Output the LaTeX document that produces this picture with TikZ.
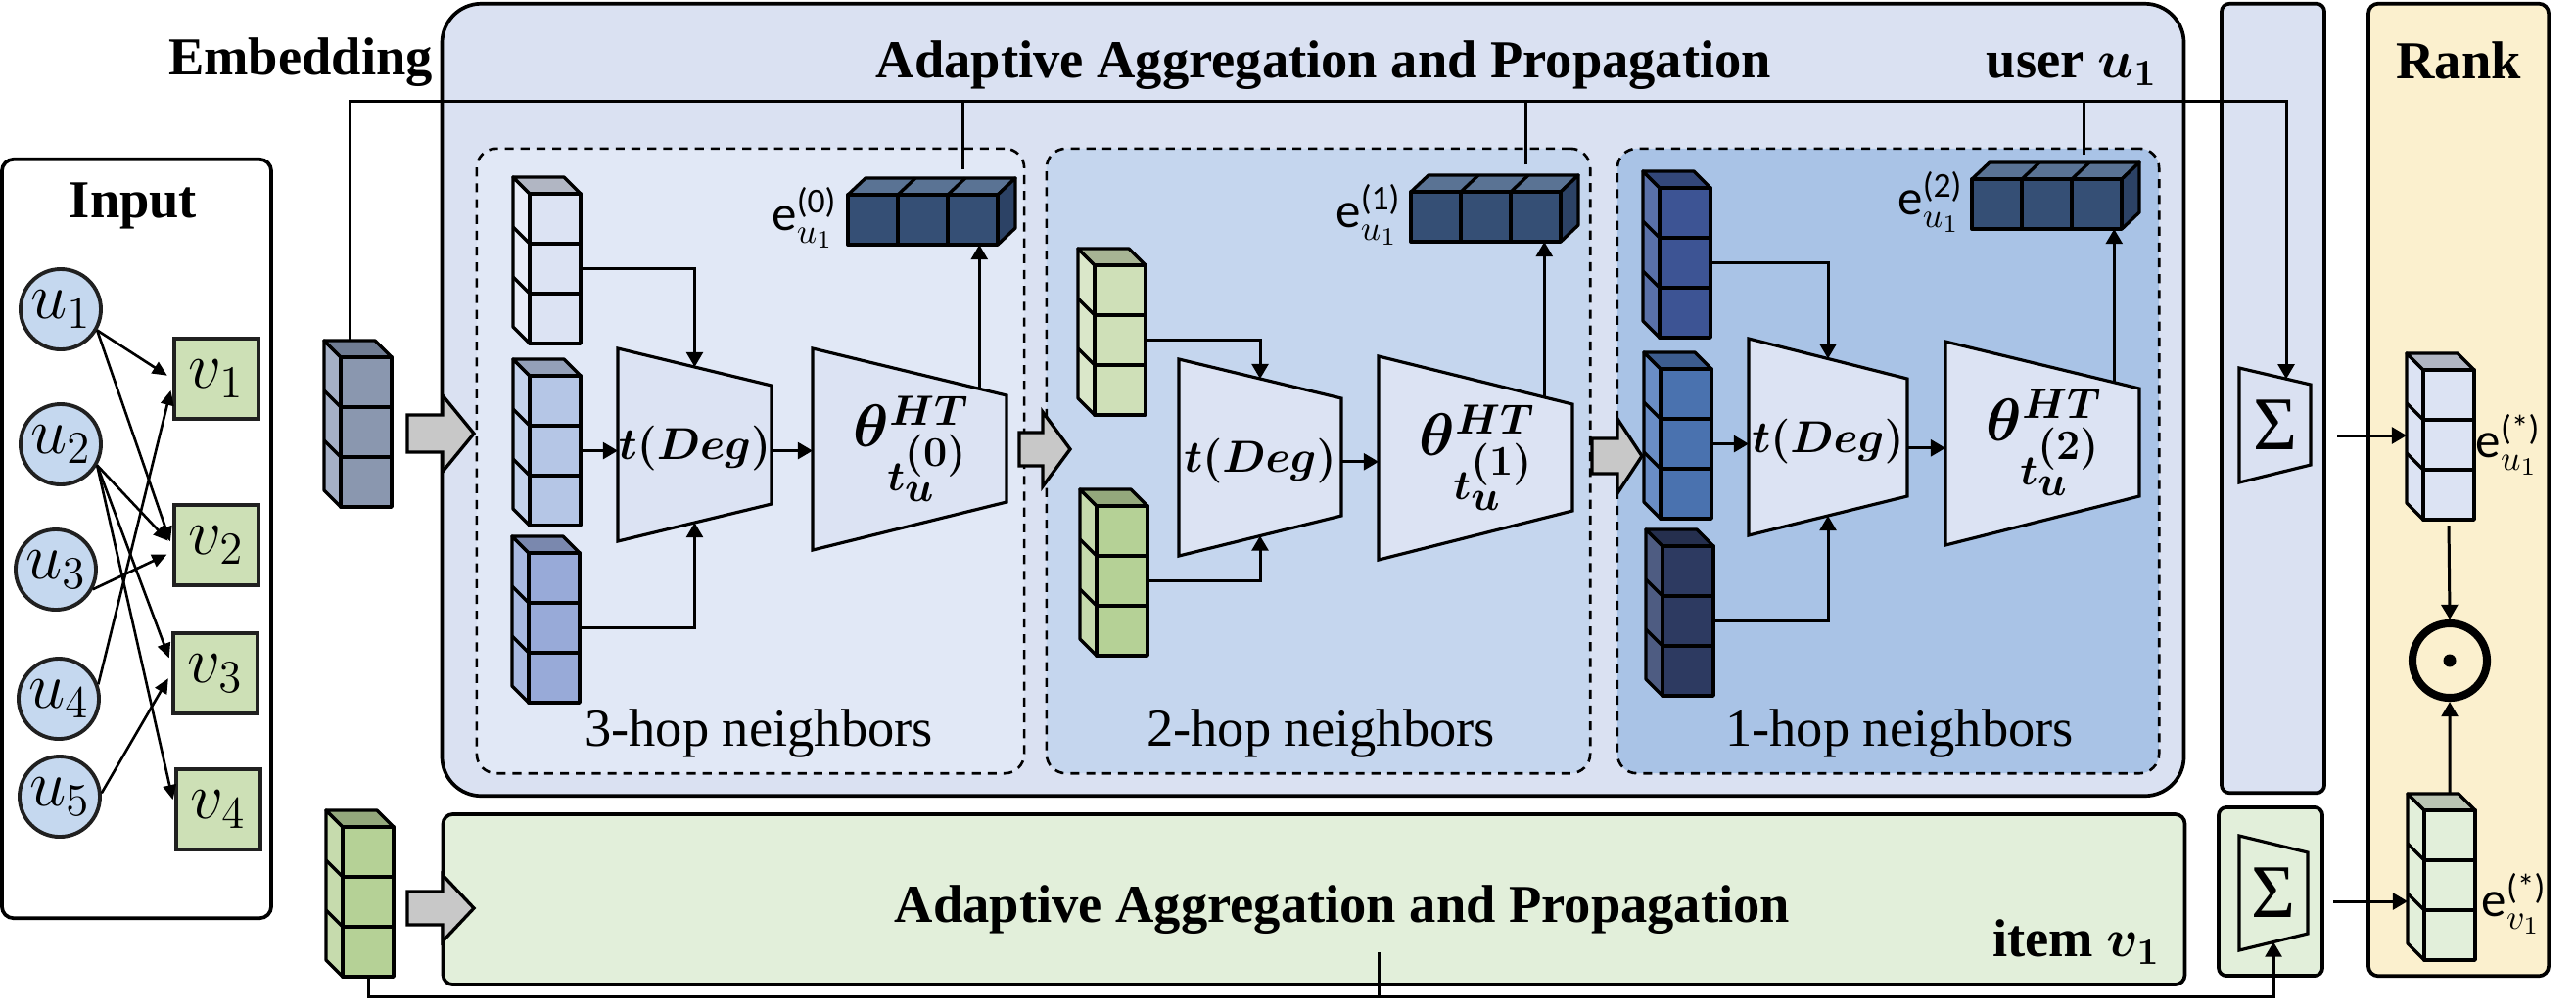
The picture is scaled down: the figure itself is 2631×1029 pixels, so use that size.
\RequirePackage{fix-cm}
\documentclass[tikz,border=0pt]{standalone}
\usepackage[no-math]{fontspec}
\setmainfont{Liberation Serif}
\newfontfamily\carlito{Carlito}
\usepackage{amsmath}
\usepackage{bm}
\usetikzlibrary{arrows.meta,calc}

\definecolor{userbg}{HTML}{DAE1F2}
\definecolor{hopthree}{HTML}{E1E8F6}
\definecolor{hoptwo}{HTML}{C5D6EE}
\definecolor{hopone}{HTML}{A9C3E6}
\definecolor{trapfill}{HTML}{DCE3F3}
\definecolor{itembg}{HTML}{E2EFDA}
\definecolor{rankbg}{HTML}{FBF0CE}
\definecolor{ublue}{HTML}{C5D8EF}
\definecolor{vgreen}{HTML}{CDE0B6}
\definecolor{ink}{HTML}{202020}
\definecolor{blkgray}{HTML}{C8C8C8}
% stack colours
\definecolor{embF}{HTML}{8A97AF}\definecolor{embS}{HTML}{A5B0C6}\definecolor{embT}{HTML}{6F7C93}
\definecolor{aF}{HTML}{DCE3F3}\definecolor{aS}{HTML}{E8ECF7}\definecolor{aT}{HTML}{B1B6C3}
\definecolor{bF}{HTML}{B5C6E6}\definecolor{bS}{HTML}{C5D3EC}\definecolor{bT}{HTML}{94A0B8}
\definecolor{cF}{HTML}{98AAD8}\definecolor{cS}{HTML}{A9B9E0}\definecolor{cT}{HTML}{7A88AE}
\definecolor{dF}{HTML}{CFE0B8}\definecolor{dS}{HTML}{DAE7C9}\definecolor{dT}{HTML}{A7B494}
\definecolor{gnF}{HTML}{B5D196}\definecolor{gnS}{HTML}{C6DBAD}\definecolor{gnT}{HTML}{94A87C}
\definecolor{fF}{HTML}{3D5494}\definecolor{fS}{HTML}{5A71A8}\definecolor{fT}{HTML}{334779}
\definecolor{gF}{HTML}{4A72AF}\definecolor{gS}{HTML}{6A8DC5}\definecolor{gT}{HTML}{3C5C8E}
\definecolor{hF}{HTML}{2D3A61}\definecolor{hS}{HTML}{4E5C82}\definecolor{hT}{HTML}{252F4E}
\definecolor{nvF}{HTML}{354F75}\definecolor{nvS}{HTML}{2C4265}\definecolor{nvT}{HTML}{5A7394}
\definecolor{esvT}{HTML}{BAC4B3}

% vertical stack of three cubes: name, x, y (front top-left), front, side, top
\newcommand{\vstack}[6]{%
  \begin{scope}[shift={(#2,#3)}]
    \draw[cube,fill=#5] (0,0) -- (-17,-17) -- (-17,136) -- (0,153) -- cycle;
    \draw[cube,fill=#6] (0,0) -- (-17,-17) -- (35,-17) -- (52,0) -- cycle;
    \draw[cube] (0,51) -- (-17,34) (0,102) -- (-17,85);
    \draw[cube,fill=#4] (0,0) rectangle (52,51);
    \draw[cube,fill=#4] (0,51) rectangle (52,102);
    \draw[cube,fill=#4] (0,102) rectangle (52,153);
  \end{scope}
  \node[inner sep=0pt,outer sep=0pt,minimum width=0.52cm,minimum height=1.53cm,anchor=north west] (#1) at (#2,#3) {};}
% horizontal stack of three cubes
\newcommand{\hstack}[6]{%
  \begin{scope}[shift={(#2,#3)}]
    \draw[cube,fill=#6] (0,0) -- (18,-17) -- (171,-17) -- (153,0) -- cycle;
    \draw[cube,fill=#5] (153,0) -- (171,-17) -- (171,34) -- (153,51) -- cycle;
    \draw[cube] (51,0) -- (69,-17) (102,0) -- (120,-17);
    \draw[cube,fill=#4] (0,0) rectangle (51,51);
    \draw[cube,fill=#4] (51,0) rectangle (102,51);
    \draw[cube,fill=#4] (102,0) rectangle (153,51);
  \end{scope}
  \node[inner sep=0pt,outer sep=0pt,minimum width=1.53cm,minimum height=0.51cm,anchor=north west] (#1) at (#2,#3) {};}
% trapezoid: name, xl, yl-top, yl-bottom, xr, yr-top, yr-bottom, fill
\newcommand{\trap}[8]{%
  \draw[trapz,fill=#8] (#2,#3) coordinate (#1-tl) -- (#5,#6) coordinate (#1-tr) -- (#5,#7) coordinate (#1-br) -- (#2,#4) coordinate (#1-bl) -- cycle;
  \coordinate (#1-c) at ($0.25*(#1-tl)+0.25*(#1-tr)+0.25*(#1-br)+0.25*(#1-bl)$);}
% grey block arrow: x0, xm, x1, yc, half body, half head
\newcommand{\blk}[6]{%
  \draw[line width=0.95pt,fill=blkgray,line join=miter] (#1,#4-#5) -- (#2,#4-#5) -- (#2,#4-#6) -- (#3,#4) -- (#2,#4+#6) -- (#2,#4+#5) -- (#1,#4+#5) -- cycle;}
% theta label
\newcommand{\thlab}[1]{$\bm{\theta}^{\bm{HT}}_{\bm{t}_{\scriptstyle\bm{u}}^{\scriptstyle\bm{(#1)}}}$}

\begin{document}
\begin{tikzpicture}[x=0.01cm,y=-0.01cm,
  bx/.style={draw=black,line width=1.05pt},
  cube/.style={draw=black,line width=0.95pt,line join=round},
  trapz/.style={draw=black,line width=0.9pt,line join=miter},
  conn/.style={draw=black,line width=0.85pt},
  arr/.style={conn,-{Triangle[length=4.3pt,width=4.8pt]}},
  garr/.style={draw=black,line width=0.75pt,-{Triangle[length=4.3pt,width=3.8pt]},shorten >=0.06cm},
  dbox/.style={draw=black,line width=0.75pt,dash pattern=on 2.6pt off 2pt,rounded corners=0.2cm},
  ttl/.style={font=\fontsize{15.5}{18}\selectfont\bfseries,inner sep=0pt},
  hop/.style={font=\fontsize{15.5}{18}\selectfont,inner sep=0pt},
  elab/.style={font=\fontsize{14.5}{17}\selectfont\carlito,inner sep=0pt},
  tdeg/.style={font=\fontsize{13}{15}\selectfont,inner sep=0pt},
  qlab/.style={font=\fontsize{17.5}{20}\selectfont,inner sep=0pt},
  sig/.style={font=\fontsize{22}{26}\selectfont,inner sep=0pt},
  unode/.style={circle,draw=ink,fill=ublue,line width=1.1pt,minimum size=0.82cm,inner sep=0pt,font=\fontsize{19}{22}\selectfont},
  vnode/.style={rectangle,draw=ink,fill=vgreen,line width=1.2pt,minimum width=0.86cm,minimum height=0.82cm,inner sep=0pt,font=\fontsize{19}{22}\selectfont}]
\useasboundingbox (0,0) rectangle (2631,1029);
\fill[white] (0,0) rectangle (2631,1029);

% ---------- big boxes ----------
\node[bx,fill=white,rounded corners=0.12cm,minimum width=2.75cm,minimum height=7.75cm] (inbox) at (139.5,550.5) {};
\node[bx,fill=userbg,rounded corners=0.4cm,minimum width=17.78cm,minimum height=8.09cm] (ubox) at (1341,408.5) {};
\node[bx,fill=itembg,rounded corners=0.1cm,minimum width=17.78cm,minimum height=1.74cm] (ibox) at (1342,919) {};
\node[bx,fill=userbg,rounded corners=0.08cm,minimum width=1.05cm,minimum height=8.06cm] (sucol) at (2321.5,407) {};
\node[bx,fill=itembg,rounded corners=0.08cm,minimum width=1.06cm,minimum height=1.72cm] (svcol) at (2319,911) {};
\node[bx,fill=rankbg,rounded corners=0.1cm,minimum width=1.84cm,minimum height=9.93cm] (rank) at (2511,500.5) {};

\node[dbox,fill=hopthree,minimum width=5.59cm,minimum height=6.38cm] (hop3) at (766.5,471) {};
\node[dbox,fill=hoptwo,minimum width=5.55cm,minimum height=6.38cm] (hop2) at (1346.5,471) {};
\node[dbox,fill=hopone,minimum width=5.53cm,minimum height=6.38cm] (hop1) at (1928.5,471) {};

% ---------- titles ----------
\node[ttl,anchor=base] (tEmb) at (307,76) {Embedding};
\node[ttl,anchor=base] (tIn) at (136,222) {Input};
\node[ttl,anchor=base] (tUser) at (1352,79) {Adaptive Aggregation and Propagation};
\node[ttl,anchor=base east] (tU1) at (2204,79) {user $\bm{u}_{\bm{1}}$};
\node[ttl,anchor=base] (tItem) at (1371,942) {Adaptive Aggregation and Propagation};
\node[ttl,anchor=base east] (tV1) at (2207,977) {item $\bm{v}_{\bm{1}}$};
\node[ttl,anchor=base] (tRank) at (2511,80) {Rank};
\node[hop,anchor=base] (l3) at (775,762) {3-hop neighbors};
\node[hop,anchor=base] (l2) at (1349,762) {2-hop neighbors};
\node[hop,anchor=base] (l1) at (1940,762) {1-hop neighbors};

% ---------- input graph ----------
\node[unode] (u1) at (62,316) {$u_1$};
\node[unode] (u2) at (62,454) {$u_2$};
\node[unode] (u3) at (57,582) {$u_3$};
\node[unode] (u4) at (60,714) {$u_4$};
\node[unode] (u5) at (61,814) {$u_5$};
\node[vnode] (v1) at (221,387) {$v_1$};
\node[vnode] (v2) at (221,557) {$v_2$};
\node[vnode] (v3) at (220,688) {$v_3$};
\node[vnode] (v4) at (223,827) {$v_4$};
\draw[garr] (u1.-30) -- (v1.west);
\draw[garr] (u1.-30) -- ([yshift=-0.02cm]v2.west);
\draw[garr] (u2.-30) -- (v2.west);
\draw[garr] (u2.-30) -- ([yshift=0.1cm]v3.west);
\draw[garr] (u2.-30) -- ([yshift=0.04cm]v4.west);
\draw[garr] (u3.-28) -- ([yshift=-0.07cm]v2.west);
\draw[garr] (u4.20) -- ([yshift=-0.06cm]v1.west);
\draw[garr] (u5.5) -- (v3.west);

% ---------- stacks ----------
\vstack{sEu}{348}{365}{embF}{embS}{embT}
\vstack{sEv}{350}{845}{gnF}{gnS}{gnT}
\vstack{sA}{541}{198}{aF}{aS}{aT}
\vstack{sB}{541}{384}{bF}{bS}{bT}
\vstack{sC}{540}{565}{cF}{cS}{cT}
\vstack{sD}{1118}{271}{dF}{dS}{dT}
\vstack{sE}{1120}{517}{gnF}{gnS}{gnT}
\vstack{sF}{1695}{192}{fF}{fS}{fT}
\vstack{sG}{1696}{377}{gF}{gS}{gT}
\vstack{sH}{1698}{558}{hF}{hS}{hT}
\vstack{sEsU}{2475}{378}{aF}{aF}{aT}
\vstack{sEsV}{2476}{828}{itembg}{itembg}{esvT}
\hstack{e0}{866}{199}{nvF}{nvS}{nvT}
\hstack{e1}{1441}{196}{nvF}{nvS}{nvT}
\hstack{e2}{2014}{183}{nvF}{nvS}{nvT}

\node[elab,anchor=east] (e0l) at ([xshift=-0.10cm,yshift=0.02cm]e0.west) {e$^{\text{(0)}}_{u_1}$};
\node[elab,anchor=east] (e1l) at ([xshift=-0.09cm,yshift=0.02cm]e1.west) {e$^{\text{(1)}}_{u_1}$};
\node[elab,anchor=east] (e2l) at ([xshift=-0.08cm,yshift=0.02cm]e2.west) {e$^{\text{(2)}}_{u_1}$};
\node[elab,anchor=west] (esul) at ([xshift=0.01cm]sEsU.east) {e$^{\text{(*)}}_{u_1}$};
\node[elab,anchor=west] (esvl) at ([xshift=0.06cm,yshift=-0.19cm]sEsV.east) {e$^{\text{(*)}}_{v_1}$};

% ---------- trapezoids ----------
\trap{T1}{631}{356}{553}{788}{394}{515}{trapfill}
\trap{Q1}{830}{356}{562}{1028}{404}{513}{trapfill}
\trap{T2}{1204}{367}{568}{1370}{407}{527}{trapfill}
\trap{Q2}{1408}{364}{572}{1606}{413}{522}{trapfill}
\trap{T3}{1786}{346}{547}{1948}{387}{507}{trapfill}
\trap{Q3}{1987}{349}{557}{2185}{397}{507}{trapfill}
\trap{Su}{2287}{376}{493}{2360}{393}{475}{userbg}
\trap{Sv}{2287}{854}{971}{2357}{871}{954}{itembg}

\node[tdeg] (T1t) at ([yshift=-0.04cm]T1-c) {$\bm{t(Deg)}$};
\node[tdeg] (T2t) at ([yshift=-0.04cm]T2-c) {$\bm{t(Deg)}$};
\node[tdeg] (T3t) at ([yshift=-0.04cm]T3-c) {$\bm{t(Deg)}$};
\node[qlab] (Q1t) at ([xshift=0.02cm]Q1-c) {\thlab{0}};
\node[qlab] (Q2t) at ([xshift=0.02cm]Q2-c) {\thlab{1}};
\node[qlab] (Q3t) at ([xshift=0.02cm]Q3-c) {\thlab{2}};
\node[sig] (Sut) at (Su-c) {Σ};
\node[sig] (Svt) at (Sv-c) {Σ};

% ---------- grey block arrows ----------
\blk{416}{452}{484}{443}{19}{39}
\blk{1041}{1065}{1093}{459}{17}{38}
\blk{1626}{1652}{1677}{466}{18}{38}
\blk{416}{452}{484}{928}{17}{34}

% ---------- connectors: 3-hop ----------
\coordinate (T1in) at ($(T1-tl)!0.5!(T1-tr)$);
\coordinate (T1bt) at ($(T1-bl)!0.5!(T1-br)$);
\coordinate (T1o) at ($(T1-tr)!0.55!(T1-br)$);
\coordinate (Q1o) at ($(Q1-tl)!0.86!(Q1-tr)$);
\draw[arr] (sA.east) -| (T1in);
\draw[arr] (sB.east) -- (sB.east -| T1-tl);
\draw[arr] (sC.east) -| (T1bt);
\draw[arr] (T1o) -- (T1o -| Q1-tl);
\draw[arr] (Q1o) -- (Q1o |- e0.south);
% 2-hop
\coordinate (T2in) at ($(T2-tl)!0.5!(T2-tr)$);
\coordinate (T2bt) at ($(T2-bl)!0.5!(T2-br)$);
\coordinate (T2o) at ($(T2-tr)!0.54!(T2-br)$);
\coordinate (Q2o) at ($(Q2-tl)!0.855!(Q2-tr)$);
\draw[arr] (sD.east) -| (T2in);
\draw[arr] (sE.east) -| (T2bt);
\draw[arr] (T2o) -- (T2o -| Q2-tl);
\draw[arr] (Q2o) -- (Q2o |- e1.south);
% 1-hop
\coordinate (T3in) at ($(T3-tl)!0.5!(T3-tr)$);
\coordinate (T3bt) at ($(T3-bl)!0.5!(T3-br)$);
\coordinate (T3o) at ($(T3-tr)!0.59!(T3-br)$);
\coordinate (Q3o) at ($(Q3-tl)!0.87!(Q3-tr)$);
\draw[arr] (sF.east) -| (T3in);
\draw[arr] (sG.east) -- (sG.east -| T3-tl);
\draw[arr] (sH.east) -| (T3bt);
\draw[arr] (T3o) -- (T3o -| Q3-tl);
\draw[arr] (Q3o) -- (Q3o |- e2.south);

% ---------- user bus ----------
\coordinate (bus) at (2335,103);
\coordinate (EuTop) at ([xshift=0.09cm,yshift=0.17cm]sEu.north west);
\coordinate (SuIn) at ($(Su-tl)!0.66!(Su-tr)$);
\draw[arr] (EuTop) |- (bus) -- (bus |- SuIn);
\coordinate (e0up) at ([xshift=0.41cm,yshift=0.26cm]e0.north);
\coordinate (e1up) at ([xshift=0.405cm,yshift=0.28cm]e1.north);
\coordinate (e2up) at ([xshift=0.375cm,yshift=0.25cm]e2.north);
\draw[conn] (e0up) -- (e0up |- bus);
\draw[conn] (e1up) -- (e1up |- bus);
\draw[conn] (e2up) -- (e2up |- bus);

% ---------- item bus ----------
\coordinate (ibus) at (2322,1018);
\coordinate (SvIn) at ($(Sv-bl)!0.5!(Sv-br)$);
\draw[arr] (sEv.south) |- (ibus) -- (SvIn);
\coordinate (iout) at (1408,973);
\draw[conn] (iout) -- (iout |- ibus);

% ---------- to rank ----------
\coordinate (SuOut) at (2387,445);
\coordinate (EsUin) at ([xshift=-0.17cm]sEsU.west);
\draw[arr] (SuOut) -- (SuOut -| EsUin);
\coordinate (SvOut) at (2383,921);
\coordinate (EsVin) at ([xshift=-0.17cm]sEsV.west);
\draw[arr] (SvOut) -- (SvOut -| EsVin);

\node[circle,draw=black,line width=2.3pt,minimum size=0.76cm,inner sep=0pt] (dot) at (2502,675) {};
\fill (dot.center) circle (0.065cm);
\draw[arr] ([yshift=-0.06cm]sEsU.south) -- (dot.north);
\draw[arr] ([yshift=0.17cm]sEsV.north) -- (dot.south);
\end{tikzpicture}
\end{document}
